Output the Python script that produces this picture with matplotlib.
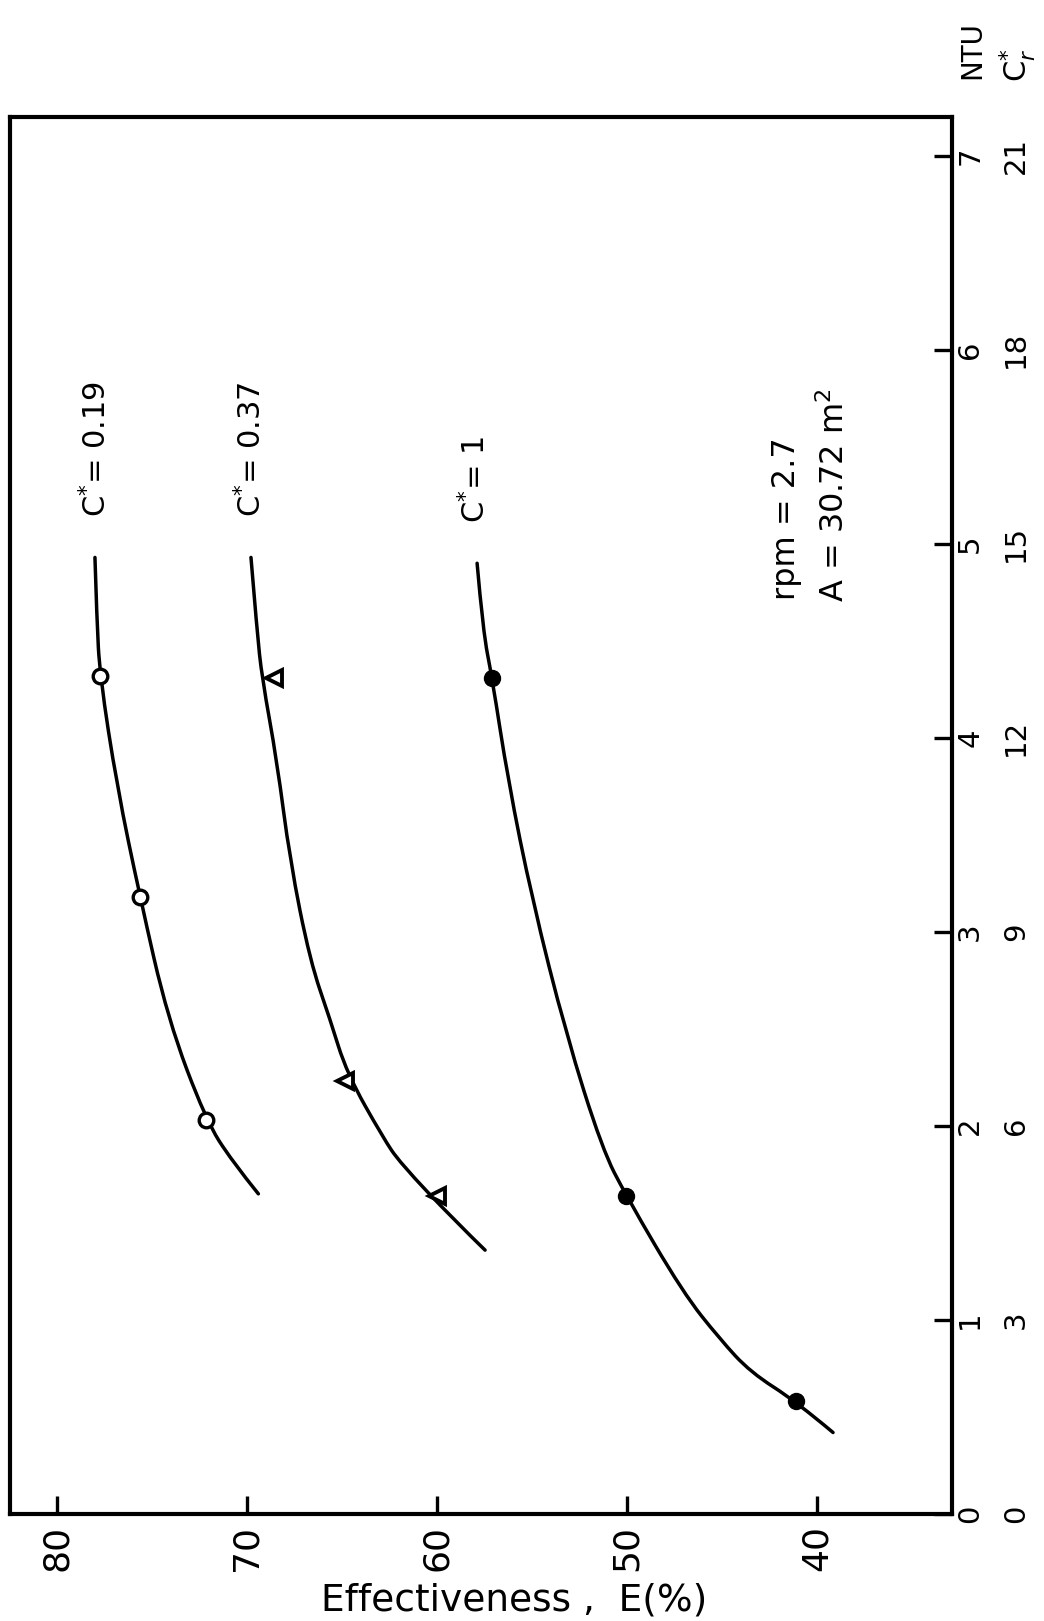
import matplotlib
matplotlib.use("Agg")
import matplotlib.pyplot as plt
from matplotlib.path import Path
from matplotlib.patches import PathPatch

plt.rcParams['font.family'] = ['DejaVu Sans']
plt.rcParams['mathtext.fontset'] = 'dejavusans'

# ---------------- data ----------------
# measured points (Effectiveness %, NTU)
c019_eff = [77.74, 75.63, 72.16]
c019_ntu = [4.32, 3.18, 2.03]
c037_eff = [68.6, 64.84, 60.0]
c037_ntu = [4.31, 2.23, 1.64]
c1_eff = [57.1, 50.05, 41.1]
c1_ntu = [4.31, 1.64, 0.58]

# hand-drawn fitted curves
curve019_eff = [78.0, 77.9, 77.74, 76.84, 75.63, 74.16, 72.16, 70.8, 69.4]
curve019_ntu = [4.93, 4.61, 4.32, 3.75, 3.18, 2.55, 2.03, 1.82, 1.65]
curve037_eff = [69.79, 69.47, 69.21, 68.42, 67.74, 66.68, 65.63, 64.74, 62.84, 61.95, 59.05, 57.47]
curve037_ntu = [4.93, 4.55, 4.31, 3.88, 3.37, 2.85, 2.55, 2.27, 1.94, 1.81, 1.51, 1.36]
curve1_eff = [57.89, 57.58, 57.1, 56.26, 55.0, 53.2, 51.3, 50.05, 47.05, 45.1, 43.5, 41.1, 39.16]
curve1_ntu = [4.90, 4.55, 4.31, 3.78, 3.17, 2.47, 1.88, 1.64, 1.14, 0.90, 0.73, 0.58, 0.42]

eff_ticks = [40, 50, 60, 70, 80]
ntu_ticks = [0, 1, 2, 3, 4, 5, 6, 7]
cr_ticks = [0, 3, 6, 9, 12, 15, 18, 21]

curve_labels = ["C$^{*}$= 0.19", "C$^{*}$= 0.37", "C$^{*}$= 1"]


def smooth_curve(ax, xs, ys, lw):
    """Draw a smooth quadratic-Bezier path through the read points."""
    verts = [(xs[0], ys[0])]
    codes = [Path.MOVETO]
    n = len(xs)
    for i in range(1, n - 1):
        if i < n - 2:
            end = ((xs[i] + xs[i + 1]) / 2, (ys[i] + ys[i + 1]) / 2)
        else:
            end = (xs[i + 1], ys[i + 1])
        verts += [(xs[i], ys[i]), end]
        codes += [Path.CURVE3, Path.CURVE3]
    patch = PathPatch(Path(verts, codes), facecolor='none', edgecolor='black',
                      lw=lw, capstyle='round', transform=ax.transData)
    ax.add_patch(patch)


# ---------------- figure ----------------
W, H = 1044, 1621
fig = plt.figure(figsize=(W / 100, H / 100), dpi=100)
ax_l, ax_r, ax_t, ax_b = 10, 952, 117, 1514
ax = fig.add_axes([ax_l / W, 1 - ax_b / H, (ax_r - ax_l) / W, (ax_b - ax_t) / H])

ax.set_xlim(82.47, 32.9)
ax.set_ylim(0, 7.2)

lw = 2.5
smooth_curve(ax, curve019_eff, curve019_ntu, lw)
smooth_curve(ax, curve037_eff, curve037_ntu, lw)
smooth_curve(ax, curve1_eff, curve1_ntu, lw)

ax.plot(c019_eff, c019_ntu, 'o', ms=10.5, mfc='white', mec='black', mew=2.4, ls='none', zorder=5)
ax.plot(c037_eff, c037_ntu, '<', ms=12, mfc='white', mec='black', mew=2.8, ls='none', zorder=5)
ax.plot(c1_eff, c1_ntu, 'o', ms=11.5, mfc='black', mec='black', ls='none', zorder=5)

# curve labels
ax.text(77.95, 5.14, curve_labels[0], rotation=90, ha='center', va='bottom', fontsize=22)
ax.text(69.8, 5.14, curve_labels[1], rotation=90, ha='center', va='bottom', fontsize=22)
ax.text(58.0, 5.11, curve_labels[2], rotation=90, ha='center', va='bottom', fontsize=22)

ax.text(41.63, 4.71, "rpm = 2.7", rotation=90, ha='center', va='bottom', fontsize=23)
ax.text(39.05, 4.70, "A = 30.72 m$^{2}$", rotation=90, ha='center', va='bottom', fontsize=23)

# spines
for s in ax.spines.values():
    s.set_linewidth(3)
    s.set_color('black')

# x axis (effectiveness)
ax.set_xticks(eff_ticks)
ax.set_xticklabels([str(v) for v in eff_ticks])
ax.xaxis.set_ticks_position('bottom')
ax.tick_params(axis='x', direction='in', length=13, width=2.4, labelsize=26,
               pad=8, labelrotation=90)

# y axis (NTU) on the right
ax.yaxis.tick_right()
ax.set_yticks(ntu_ticks)
ax.set_yticklabels([str(v) for v in ntu_ticks])
ax.tick_params(axis='y', direction='in', length=13, width=2.4, labelsize=21,
               pad=3, labelrotation=90)
for lab in ax.get_yticklabels():
    lab.set_va('center')

sec = ax.secondary_yaxis('right', functions=(lambda n: 3 * n, lambda c: c / 3))
sec.set_yticks(cr_ticks)
sec.set_yticklabels([str(v) for v in cr_ticks])
sec.tick_params(axis='y', length=0, labelsize=21, pad=36, labelrotation=90)
sec.spines['right'].set_visible(False)
for lab in sec.get_yticklabels():
    lab.set_va('center')

# axis headers
fig.text(972 / W, 1 - 50 / H, "NTU", rotation=90, ha='center', va='center', fontsize=20)
fig.text(1017 / W, 1 - 65 / H, "C$_{r}^{*}$", rotation=90, ha='center', va='center', fontsize=22)

fig.text(514 / W, 1 - 1601 / H, "Effectiveness ,  E(%)", ha='center', va='center', fontsize=27)

fig.savefig("out.png", dpi=100, facecolor='white')
